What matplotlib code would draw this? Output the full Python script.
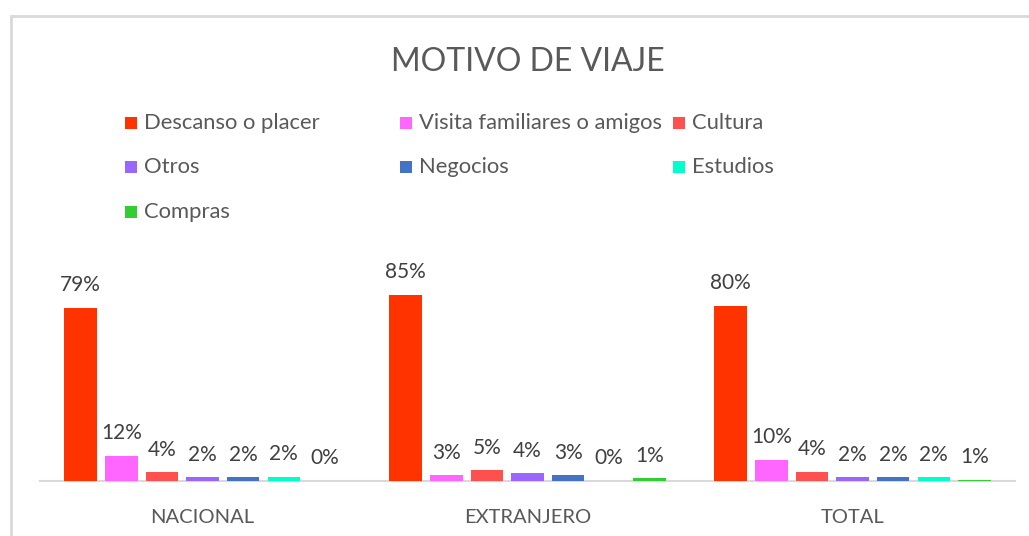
import matplotlib
matplotlib.use("Agg")
import matplotlib.pyplot as plt
from matplotlib.patches import Rectangle
import numpy as np

# ---------------------------------------------------------------------------
# Data (percent)
# ---------------------------------------------------------------------------
categories = ["NACIONAL", "EXTRANJERO", "TOTAL"]
series = ["Descanso o placer", "Visita familiares o amigos", "Cultura",
          "Otros", "Negocios", "Estudios", "Compras"]
colors = ["#FF3300", "#FF66FF", "#FF5050", "#9966FF", "#4472C4", "#00FFCC", "#33CC33"]

descanso = [79.0, 85.0, 80.0]
visita = [11.6, 2.6, 9.6]
cultura = [4.0, 4.8, 4.2]
otros = [1.6, 3.6, 1.6]
negocios = [1.6, 2.6, 1.6]
estudios = [2.0, 0.0, 1.6]
compras = [0.2, 1.2, 0.6]
values = [descanso, visita, cultura, otros, negocios, estudios, compras]

TXT = "#595959"
FONT = "Lato"

# ---------------------------------------------------------------------------
# Figure
# ---------------------------------------------------------------------------
W, H = 1029, 536
fig = plt.figure(figsize=(W / 100, H / 100), dpi=100)
plt.rcParams["font.family"] = [FONT, "DejaVu Sans"]

# chart border (light grey, cut off at right/bottom like the screenshot)
fig.patches.append(Rectangle((10.5 / W, -0.1), 1.2, 1.1 - 15.5 / H,
                             transform=fig.transFigure, fill=False,
                             edgecolor="#D9D9D9", lw=2))

ax = fig.add_axes([40 / W, 55 / H, 975 / W, 219 / H])
n = len(series)
step = 0.125
width = 0.1
x = np.arange(len(categories))
for i, (name, vals, c) in enumerate(zip(series, values, colors)):
    pos = x + (i - (n - 1) / 2) * step
    bars = ax.bar(pos, vals, width, color=c, linewidth=0, label=name, zorder=3)
    for b, v in zip(bars, vals):
        ax.annotate(f"{v:.0f}%", (b.get_x() + b.get_width() / 2, v),
                    xytext=(0, 9), textcoords="offset points",
                    ha="center", va="bottom", fontsize=15, color="#404040")

ax.set_xlim(-0.5, 2.5)
ax.set_ylim(0, 100)
ax.set_yticks([])
ax.set_xticks(x)
ax.set_xticklabels(categories, fontsize=14.5, color=TXT)
ax.tick_params(axis="x", length=0, pad=20)
for s in ["top", "right", "left"]:
    ax.spines[s].set_visible(False)
ax.spines["bottom"].set_color("#D9D9D9")
ax.spines["bottom"].set_linewidth(1.5)
ax.spines["bottom"].set_zorder(1)

fig.text(528 / W, 1 - 62 / H, "MOTIVO DE VIAJE", ha="center", va="center",
         fontsize=23, color=TXT)

# legend laid out row by row, three fixed-width columns
col_x = [131, 406, 679]
row_y = [123, 167, 212]
for i, (name, c) in enumerate(zip(series, colors)):
    r, k = divmod(i, 3)
    fig.patches.append(Rectangle(((col_x[k] - 6) / W, 1 - (row_y[r] + 6) / H),
                                 12 / W, 12 / H, transform=fig.transFigure,
                                 facecolor=c, edgecolor="none"))
    fig.text((col_x[k] + 13) / W, 1 - row_y[r] / H, name, ha="left", va="center",
             fontsize=15.8, color=TXT)

fig.savefig("out.png", dpi=100)
